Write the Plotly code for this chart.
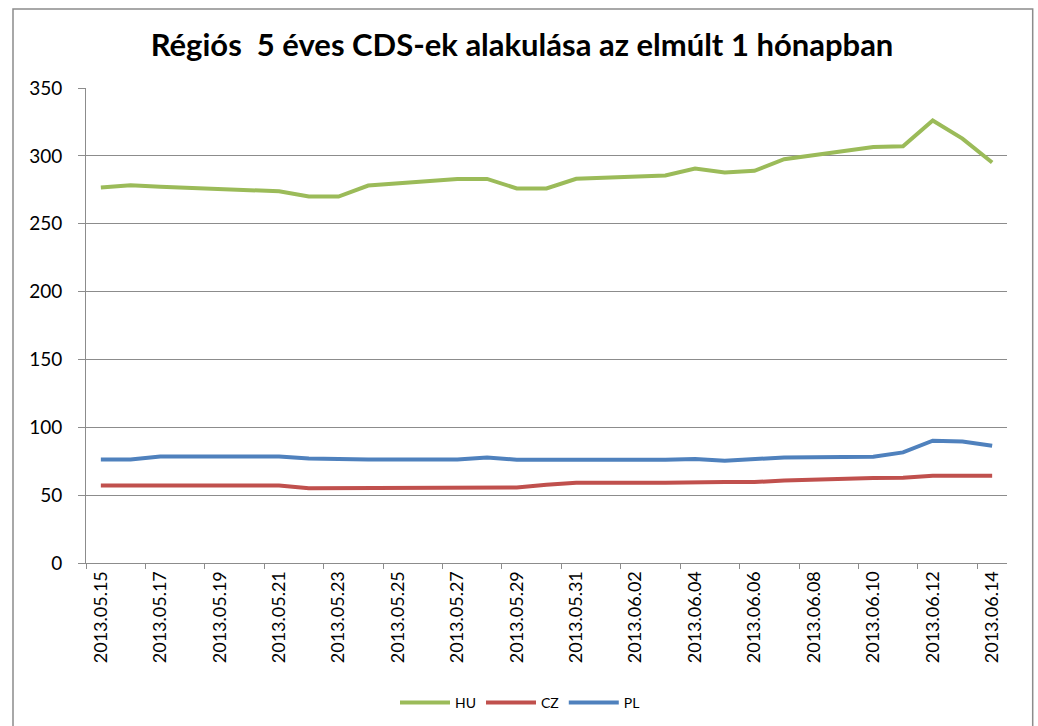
import plotly.graph_objects as go
from datetime import date, timedelta, datetime

# Business days with quotes
dates = ["2013-05-15", "2013-05-16", "2013-05-17", "2013-05-20", "2013-05-21",
         "2013-05-22", "2013-05-23", "2013-05-24", "2013-05-27", "2013-05-28",
         "2013-05-29", "2013-05-30", "2013-05-31", "2013-06-03", "2013-06-04",
         "2013-06-05", "2013-06-06", "2013-06-07", "2013-06-10", "2013-06-11",
         "2013-06-12", "2013-06-13", "2013-06-14"]

hu = [276.7, 278.4, 277.3, 274.2, 273.9, 270.0, 270.0, 278.1, 283.0, 283.0,
      276.0, 276.0, 283.1, 285.5, 290.7, 287.7, 289.0, 297.5, 306.6, 307.1,
      326.0, 312.7, 295.1]
cz = [57.1, 57.1, 57.1, 57.1, 57.1, 55.0, 55.0, 55.6, 55.6, 55.6,
      55.6, 57.6, 59.1, 59.1, 59.6, 59.6, 59.6, 60.8, 62.6, 62.8,
      64.3, 64.3, 64.3]
pl = [76.3, 76.3, 78.5, 78.5, 78.5, 77.0, 76.3, 76.3, 76.3, 77.8,
      76.1, 75.8, 76.1, 76.1, 76.6, 75.3, 76.3, 77.8, 78.3, 81.5,
      90.1, 89.6, 86.4]

series_names = ["HU", "CZ", "PL"]
colors = ["#9BBB59", "#C0504D", "#4F81BD"]

# x tick labels: every second day
start = date(2013, 5, 15)
tick_dates = [start + timedelta(days=2 * i) for i in range(16)]
tick_vals = [d.isoformat() for d in tick_dates]
tick_text = [d.strftime("%Y.%m.%d") for d in tick_dates]
minor_vals = [(datetime(2013, 5, 14, 12) + timedelta(days=2 * i)).isoformat() for i in range(16)]

title = "Régiós\u00a0 5 éves CDS-ek alakulása az elmúlt 1 hónapban"

fig = go.Figure()
for name, vals, col in zip(series_names, [hu, cz, pl], colors):
    fig.add_trace(go.Scatter(x=dates, y=vals, mode="lines", name=name,
                             line=dict(color=col, width=4)))

grid = "#8c8c8c"
FONT = "Lato"
L, R, T, B = 86, 31, 88, 163
PW = 1038 - L - R
PH = 726 - T - B
fig.update_layout(
    width=1038, height=726,
    margin=dict(l=L, r=R, t=T, b=B, autoexpand=False),
    paper_bgcolor="white", plot_bgcolor="white",
    title=dict(text="<b>" + title + "</b>", x=(522 - L) / PW, xref="paper", xanchor="center",
               y=1 - 45 / 726, yanchor="middle",
               font=dict(family=FONT, size=31, color="black")),
    font=dict(family=FONT, color="black"),
    showlegend=True,
    legend=dict(orientation="h", x=(520 - L) / PW, xanchor="center", y=-(703 - (T + PH)) / PH,
                yanchor="middle", font=dict(size=14, family=FONT), itemwidth=50,
                bgcolor="rgba(0,0,0,0)"),
    xaxis=dict(type="date", range=["2013-05-14 12:00", "2013-06-14 12:00"],
               automargin=False,
               tickmode="array", tickvals=tick_vals, ticktext=tick_text,
               tickangle=-90, ticks="", showgrid=False,
               showline=True, linecolor=grid, linewidth=1,
               tickfont=dict(size=18, family=FONT),
               minor=dict(tickmode="array", tickvals=minor_vals, ticks="outside",
                          ticklen=5, tickcolor=grid, tickwidth=1, showgrid=False)),
    yaxis=dict(range=[0, 350], tick0=0, dtick=50, showgrid=True,
               automargin=False,
               gridcolor=grid, gridwidth=1, zeroline=False,
               showline=True, linecolor=grid, linewidth=1,
               ticks="outside", ticklen=7, tickcolor=grid,
               ticklabelstandoff=12,
               tickfont=dict(size=19, family=FONT)),
    shapes=[dict(type="rect", xref="paper", yref="paper",
                 x0=(13 - L) / PW, x1=(1032.7 - L) / PW,
                 y0=-(740 - (T + PH)) / PH, y1=(T + PH - 9) / PH,
                 line=dict(color="#8c8c8c", width=1.5), layer="below")],
)

fig.write_html("out.html", config={"displayModeBar": False},
               post_script="document.body.style.margin='0';document.body.style.overflow='hidden';")
